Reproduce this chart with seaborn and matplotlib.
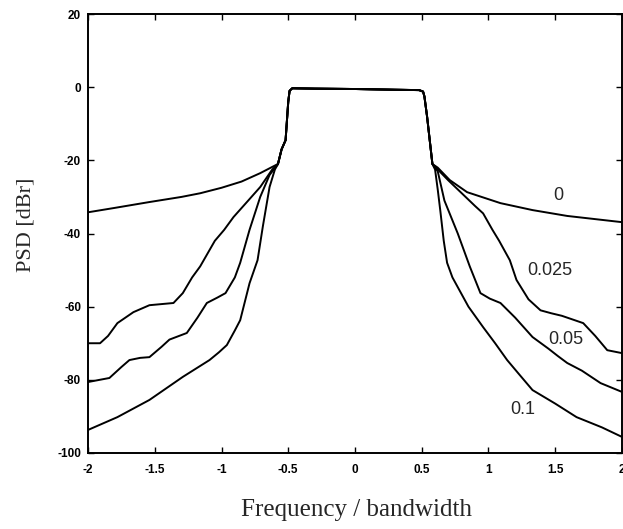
import matplotlib
matplotlib.use('Agg')
import matplotlib.pyplot as plt
import numpy as np
import pandas as pd
import seaborn as sns

# main lobe, shared by every curve
lobe_x = [-0.577, -0.55, -0.52, -0.50, -0.49, -0.47, -0.3, 0.0, 0.3, 0.48, 0.51, 0.52, 0.54, 0.56, 0.58]
lobe_y = [-21, -17, -14.5, -4, -1, -0.3, -0.4, -0.5, -0.7, -0.8, -1.2, -2.5, -8, -14.5, -21]

# roll-off 0
c0_left_x = [-2.0, -1.8, -1.54, -1.3, -1.16, -1.0, -0.85, -0.71, -0.62]
c0_left_y = [-34.2, -33.0, -31.4, -30.0, -29.0, -27.5, -25.8, -23.5, -21.8]
c0_right_x = [0.62, 0.71, 0.84, 1.09, 1.33, 1.59, 2.0]
c0_right_y = [-22, -25.4, -28.7, -31.7, -33.6, -35.2, -36.9]

# roll-off 0.025
c1_left_x = [-2.0, -1.91, -1.85, -1.78, -1.66, -1.54, -1.42, -1.36, -1.29, -1.22, -1.16, -1.05, -0.98, -0.91, -0.8, -0.71, -0.62]
c1_left_y = [-70, -70, -68, -64.5, -61.5, -59.6, -59.2, -59, -56.3, -52, -49, -42, -39, -35.5, -31, -27.3, -22.5]
c1_right_x = [0.62, 0.7, 0.8, 0.9, 0.96, 1.03, 1.08, 1.16, 1.21, 1.3, 1.39, 1.47, 1.55, 1.63, 1.71, 1.8, 1.89, 2.0]
c1_right_y = [-22.5, -25.5, -29, -32.5, -34.5, -39, -42, -47.3, -52.7, -58, -61, -61.8, -62.5, -63.5, -64.5, -68, -71.9, -72.7]

# roll-off 0.05
c2_left_x = [-2.0, -1.84, -1.75, -1.69, -1.61, -1.54, -1.45, -1.39, -1.26, -1.18, -1.11, -1.03, -0.97, -0.9, -0.86, -0.79, -0.71, -0.64]
c2_left_y = [-80.6, -79.5, -76.5, -74.6, -74.0, -73.8, -71, -69, -67.2, -63, -59, -57.5, -56.3, -52, -48, -39, -30, -24]
c2_right_x = [0.62, 0.67, 0.77, 0.86, 0.94, 1.01, 1.09, 1.2, 1.33, 1.45, 1.52, 1.59, 1.7, 1.84, 2.0]
c2_right_y = [-23, -31, -40, -49, -56.3, -57.8, -59, -63, -68.3, -71.5, -73.5, -75.4, -77.5, -80.9, -83.3]

# roll-off 0.1
c3_left_x = [-2.0, -1.78, -1.54, -1.29, -1.09, -1.02, -0.96, -0.9, -0.86, -0.79, -0.73, -0.69, -0.64, -0.6]
c3_left_y = [-93.7, -90.2, -85.5, -79.2, -74.6, -72.5, -70.5, -66.5, -63.7, -53.6, -47.3, -38, -27.3, -22.5]
c3_right_x = [0.6, 0.62, 0.64, 0.665, 0.69, 0.73, 0.76, 0.85, 0.96, 1.05, 1.14, 1.23, 1.33, 1.5, 1.66, 1.85, 2.0]
c3_right_y = [-22.5, -28, -34, -42, -48, -52, -54, -60, -65.6, -70, -74.6, -78.5, -82.8, -86.5, -90.2, -93, -95.6]

rolloff_names = ['0', '0.025', '0.05', '0.1']
label_pos = [(1.52, -29.5), (1.46, -50.0), (1.58, -69.0), (1.26, -88.0)]

x_ticks = [-2, -1.5, -1, -0.5, 0, 0.5, 1, 1.5, 2]
x_tick_labels = ['-2', '-1.5', '-1', '-0.5', '0', '0.5', '1', '1.5', '2']
y_ticks = [20, 0, -20, -40, -60, -80, -100]

sides = [
    (c0_left_x, c0_left_y, c0_right_x, c0_right_y),
    (c1_left_x, c1_left_y, c1_right_x, c1_right_y),
    (c2_left_x, c2_left_y, c2_right_x, c2_right_y),
    (c3_left_x, c3_left_y, c3_right_x, c3_right_y),
]

frames = []
for name, (lx, ly, rx, ry) in zip(rolloff_names, sides):
    frames.append(pd.DataFrame({'f': lx + lobe_x + rx,
                                'psd': ly + lobe_y + ry}).assign(rolloff = name))
psd_data = pd.concat(frames, ignore_index = True)

sns.set_style('ticks', {'xtick.direction': 'in', 'ytick.direction': 'in'})
plt.rcParams['font.family'] = ['Liberation Sans', 'DejaVu Sans']
plt.rcParams['axes.unicode_minus'] = False

fig = plt.figure(figsize = (6.23, 5.29), dpi = 100)
ax = fig.add_axes([0.1413, 0.1437, 0.8570, 0.8298])

for name in rolloff_names:
    sns.lineplot(data = psd_data[psd_data.rolloff == name]
                 , x = 'f'
                 , y = 'psd'
                 , sort = False
                 , estimator = None
                 , color = 'black'
                 , linewidth = 1.4
                 , ax = ax
                 )

for name, (tx, ty) in zip(rolloff_names, label_pos):
    ax.text(tx, ty, name, fontsize = 13, ha = 'center', va = 'center')

ax.set_xlim(-2, 2)
ax.set_ylim(-100, 20)
ax.set_xticks(x_ticks)
ax.set_xticklabels(x_tick_labels)
ax.set_yticks(y_ticks)
ax.tick_params(axis = 'both', which = 'both', top = True, right = True, direction = 'in',
               length = 4, width = 1.0, labelsize = 8.5, colors = 'black')
for lab in ax.get_xticklabels() + ax.get_yticklabels():
    lab.set_fontweight('bold')
ax.tick_params(axis = 'x', pad = 8)
ax.tick_params(axis = 'y', pad = 5)

for sp in ax.spines.values():
    sp.set_visible(True)
    sp.set_linewidth(1.4)
    sp.set_color('black')

ax.set_xlabel('Frequency / bandwidth', family = 'Liberation Serif', fontsize = 18)
ax.set_ylabel('PSD [dBr]', family = 'Liberation Serif', fontsize = 16)
ax.xaxis.set_label_coords(0.502, -0.105)
ax.yaxis.set_label_coords(-0.098, 0.52)

fig.savefig('out.png', dpi = 100, facecolor = 'white')
